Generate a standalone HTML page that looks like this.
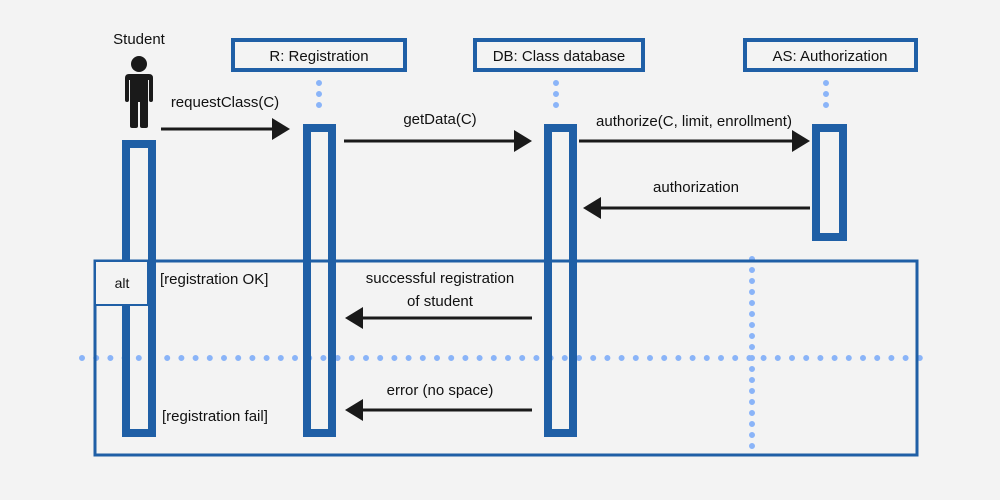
<!DOCTYPE html>
<html><head><meta charset="utf-8"><style>
html,body{margin:0;padding:0;background:#f3f3f3;}
svg{display:block;font-family:"Liberation Sans",Arial,sans-serif;}
</style></head><body>
<svg width="1000" height="500" viewBox="0 0 1000 500" xmlns="http://www.w3.org/2000/svg">
<rect width="1000" height="500" fill="#f3f3f3"/>
<g fill="none" stroke="#8ab4f8" stroke-width="6" stroke-linecap="round">
<line x1="319" y1="83" x2="319" y2="116" stroke-dasharray="0 11"/>
<line x1="556" y1="83" x2="556" y2="116" stroke-dasharray="0 11"/>
<line x1="826" y1="83" x2="826" y2="116" stroke-dasharray="0 11"/>
<line x1="752" y1="259" x2="752" y2="456" stroke-dasharray="0 11"/>
<line x1="82" y1="358" x2="925" y2="358" stroke-dasharray="0 14.2"/>
</g>
<g fill="none" stroke="#1f5fa6">
<rect x="233" y="40" width="172" height="30" stroke-width="4"/>
<rect x="475" y="40" width="168" height="30" stroke-width="4"/>
<rect x="745" y="40" width="171" height="30" stroke-width="4"/>
<rect x="95" y="261" width="822" height="194" stroke-width="3"/>
<rect x="126" y="144" width="26" height="289" stroke-width="8"/>
<rect x="307" y="128" width="25" height="305" stroke-width="8"/>
<rect x="548" y="128" width="25" height="305" stroke-width="8"/>
<rect x="816" y="128" width="27" height="109" stroke-width="8"/>
<rect x="95" y="261" width="53" height="44" stroke-width="2" fill="#f3f3f3"/>
</g>
<g fill="#1a1a1a">
<circle cx="139" cy="64" r="8"/>
<path d="M129 74 H149 Q153 74 153 78 V100 Q153 102 151 102 Q149 102 149 100 V80 H148 V126 Q148 128 146 128 H142 Q140 128 140 126 V102 H138 V126 Q138 128 136 128 H132 Q130 128 130 126 V80 H129 V100 Q129 102 127 102 Q125 102 125 100 V78 Q125 74 129 74Z"/>
</g>
<g stroke="#1a1a1a" stroke-width="3">
<line x1="161" y1="129" x2="275" y2="129"/>
<line x1="344" y1="141" x2="516" y2="141"/>
<line x1="579" y1="141" x2="794" y2="141"/>
<line x1="810" y1="208" x2="599" y2="208"/>
<line x1="532" y1="318" x2="361" y2="318"/>
<line x1="532" y1="410" x2="361" y2="410"/>
</g>
<g fill="#1a1a1a">
<path d="M290 129 L272 118 V140Z"/>
<path d="M532 141 L514 130 V152Z"/>
<path d="M810 141 L792 130 V152Z"/>
<path d="M583 208 L601 197 V219Z"/>
<path d="M345 318 L363 307 V329Z"/>
<path d="M345 410 L363 399 V421Z"/>
</g>
<g font-size="15" fill="#111" text-anchor="middle">
<text x="139" y="44">Student</text>
<text x="319" y="61">R: Registration</text>
<text x="559" y="61">DB: Class database</text>
<text x="830" y="61">AS: Authorization</text>
<text x="225" y="107">requestClass(C)</text>
<text x="440" y="124">getData(C)</text>
<text x="694" y="126">authorize(C, limit, enrollment)</text>
<text x="696" y="192">authorization</text>
<text x="440" y="283">successful registration</text>
<text x="440" y="306">of student</text>
<text x="440" y="395">error (no space)</text>
<text x="122" y="288" font-size="14">alt</text>
<text x="160" y="284" text-anchor="start">[registration OK]</text>
<text x="162" y="421" text-anchor="start">[registration fail]</text>
</g>
</svg>
</body></html>
